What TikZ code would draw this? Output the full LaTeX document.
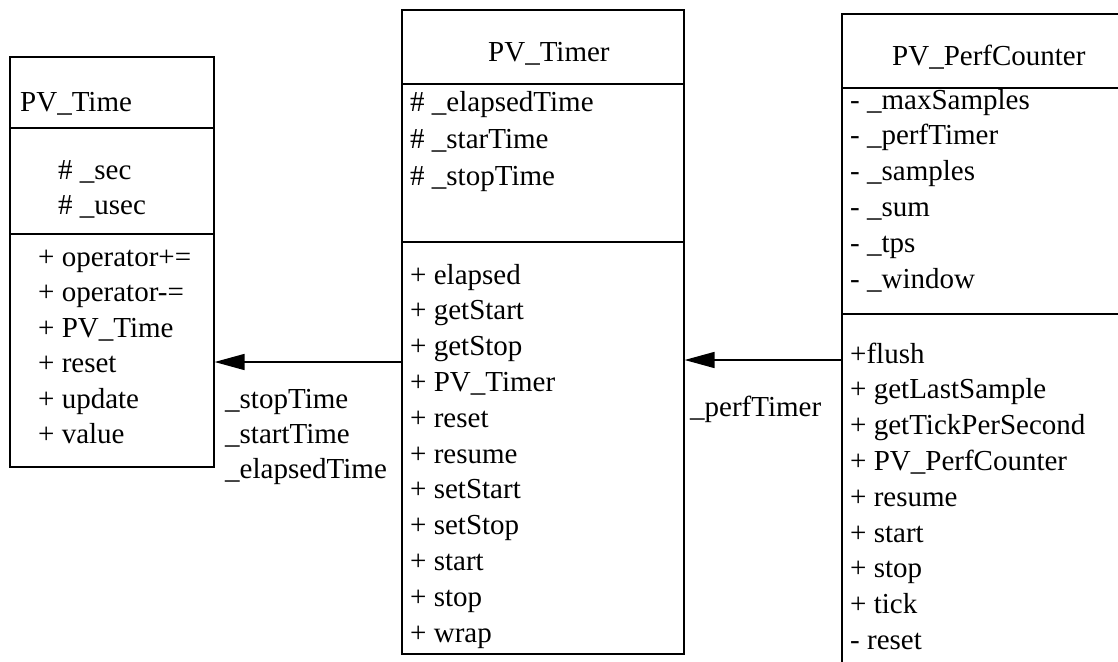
\documentclass[tikz,border=0pt]{standalone}
\usepackage{fontspec}
\setmainfont{Liberation Serif}
\usetikzlibrary{arrows.meta}
\begin{document}
\begin{tikzpicture}[x=1pt,y=-1pt,
  box/.style={draw, line width=1.6pt, rectangle, inner sep=0pt, anchor=north west},
  txt/.style={anchor=base west, inner sep=0pt, font=\fontsize{29}{34}\selectfont},
  sep/.style={line width=1.6pt},
  assoc/.style={line width=1.6pt, -{Triangle[length=30pt,width=16pt]}}]
\useasboundingbox (0,0) rectangle (1118,661);
\clip (0,0) rectangle (1118,661);
% class boxes
\node[box, minimum width=204pt, minimum height=410pt] (time) at (9,56) {};
\node[box, minimum width=282pt, minimum height=644pt] (timer) at (401,9) {};
\node[box, minimum width=320pt, minimum height=700pt] (perf) at (841,13) {};
% compartment separators
\coordinate (t1) at (0,128); \coordinate (t2) at (0,234);
\coordinate (r1) at (0,84);  \coordinate (r2) at (0,242);
\coordinate (p1) at (0,88);  \coordinate (p2) at (0,314);
\draw[sep] (time.west |- t1) -- (time.east |- t1);
\draw[sep] (time.west |- t2) -- (time.east |- t2);
\draw[sep] (timer.west |- r1) -- (timer.east |- r1);
\draw[sep] (timer.west |- r2) -- (timer.east |- r2);
\draw[sep] (perf.west |- p1) -- (perf.east |- p1);
\draw[sep] (perf.west |- p2) -- (perf.east |- p2);
% PV_Time
\node[txt] (timetitle) at (20,111) {PV\_Time};
\node[txt] (timea1) at (58,179) {\# \_sec};
\node[txt] (timea2) at (58,214) {\# \_usec};
\foreach \t [count=\i] in {+ operator+=,+ operator-=,+ PV\_Time,+ reset,+ update,+ value}
  \node[txt] (timem\i) at (38,{266+35.5*(\i-1)}) {\t};
% PV_Timer
\node[txt] (timertitle) at (488,62) {PV\_Timer};
\foreach \t [count=\i] in {\# \_elapsedTime,\# \_starTime,\# \_stopTime}
  \node[txt] (timera\i) at (410,{111+37*(\i-1)}) {\t};
\foreach \t [count=\i] in {+ elapsed,+ getStart,+ getStop,+ PV\_Timer,+ reset,+ resume,+ setStart,+ setStop,+ start,+ stop,+ wrap}
  \node[txt] (timerm\i) at (410,{284+35.8*(\i-1)}) {\t};
% PV_PerfCounter
\node[txt] (perftitle) at (892,66) {PV\_PerfCounter};
\foreach \t [count=\i] in {- \_maxSamples,- \_perfTimer,- \_samples,- \_sum,- \_tps,- \_window}
  \node[txt] (perfa\i) at (850,{109+35.8*(\i-1)}) {\t};
\foreach \t [count=\i] in {+flush,+ getLastSample,+ getTickPerSecond,+ PV\_PerfCounter,+ resume,+ start,+ stop,+ tick,- reset}
  \node[txt] (perfm\i) at (850,{363+35.8*(\i-1)}) {\t};
% associations
\coordinate (y1) at (0,362);
\coordinate (y2) at (0,360);
\draw[assoc] (timer.west |- y1) -- (time.east |- y1);
\draw[assoc] (perf.west |- y2) -- (timer.east |- y2);
\node[txt] (lab1) at (225,408) {\_stopTime};
\node[txt] (lab2) at (225,443) {\_startTime};
\node[txt] (lab3) at (225,478) {\_elapsedTime};
\node[txt] (lab4) at (690,416) {\_perfTimer};
\end{tikzpicture}
\end{document}
